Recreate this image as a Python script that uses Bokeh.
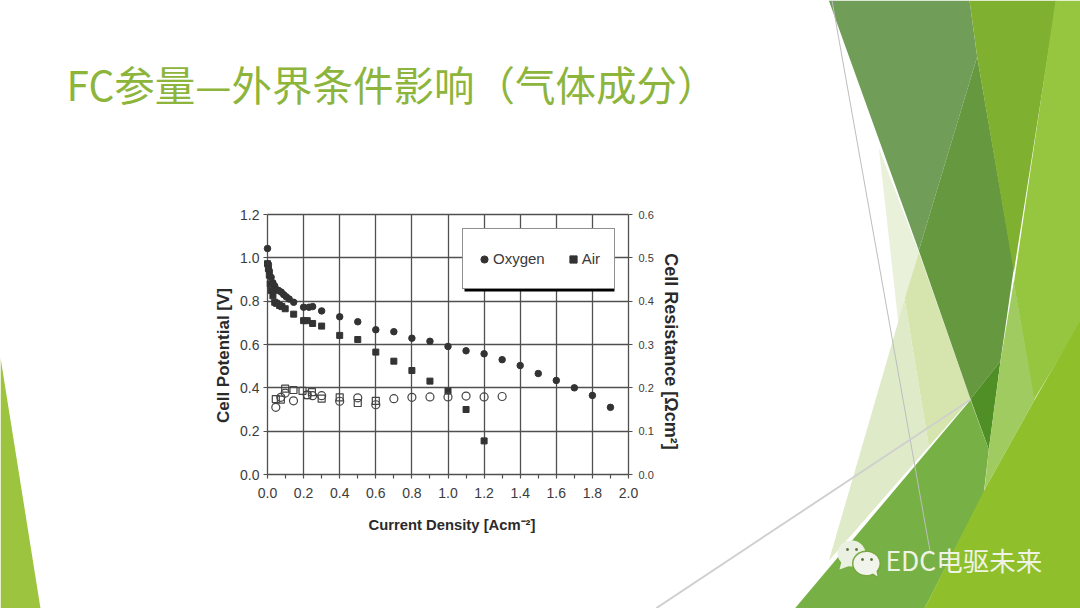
import numpy as np
from bokeh.plotting import figure
from bokeh.embed import file_html
from bokeh.resources import INLINE
from bokeh.models import (Range1d, LinearAxis, FixedTicker, PrintfTickFormatter, Legend, LegendItem,
                          BoxAnnotation, Label)

title_text = "FC参量—外界条件影响（气体成分）"
brand_text = "EDC电驱未来"
x_title = "Current Density [Acm⁻²]"
left_title = "Cell Potential [V]"
right_title = "Cell Resistance [Ωcm²]"

x_ticks = [0.0, 0.2, 0.4, 0.6, 0.8, 1.0, 1.2, 1.4, 1.6, 1.8, 2.0]
x_minor = [0.1, 0.3, 0.5, 0.7, 0.9, 1.1, 1.3, 1.5, 1.7, 1.9]
v_ticks = [0.0, 0.2, 0.4, 0.6, 0.8, 1.0, 1.2]
r_ticks = [0.0, 0.1, 0.2, 0.3, 0.4, 0.5, 0.6]

o2_x = [0.0, 0.005, 0.01, 0.02, 0.03, 0.04, 0.05, 0.06, 0.076, 0.09, 0.104, 0.12, 0.145, 0.2, 0.23, 0.25, 0.3, 0.4,
        0.5, 0.6, 0.7, 0.8, 0.9, 1.0, 1.1, 1.2, 1.3, 1.4, 1.5, 1.6, 1.7, 1.8, 1.9]
o2_v = [1.043, 0.97, 0.94, 0.91, 0.885, 0.87, 0.852, 0.85, 0.842, 0.83, 0.82, 0.81, 0.795, 0.772, 0.772, 0.775, 0.755,
        0.728, 0.705, 0.668, 0.659, 0.629, 0.615, 0.591, 0.571, 0.557, 0.53, 0.503, 0.466, 0.434, 0.40, 0.365, 0.31]
air_x = [0.0, 0.005, 0.01, 0.015, 0.02, 0.03, 0.04, 0.05, 0.067, 0.08, 0.098, 0.145, 0.2, 0.22, 0.25, 0.3, 0.4, 0.5,
         0.6, 0.7, 0.8, 0.9, 1.0, 1.1, 1.2]
air_v = [0.973, 0.95, 0.92, 0.88, 0.85, 0.825, 0.795, 0.79, 0.78, 0.775, 0.765, 0.74, 0.71, 0.71, 0.697, 0.685, 0.642,
         0.623, 0.565, 0.523, 0.48, 0.431, 0.385, 0.30, 0.155]

o2_res_x = [0.046, 0.074, 0.098, 0.144, 0.22, 0.25, 0.3, 0.4, 0.5, 0.6, 0.7, 0.8, 0.9, 1.0, 1.1, 1.2, 1.3]
o2_res = [0.155, 0.178, 0.188, 0.17, 0.184, 0.182, 0.182, 0.169, 0.177, 0.161, 0.175, 0.178, 0.179, 0.179, 0.181, 0.179, 0.18]
air_res_x = [0.046, 0.074, 0.098, 0.144, 0.194, 0.22, 0.246, 0.3, 0.4, 0.5, 0.6]
air_res = [0.174, 0.173, 0.198, 0.195, 0.193, 0.183, 0.19, 0.175, 0.178, 0.165, 0.17]

W, H = 1080, 608
LEFT, TOP, FW, FH = 267, 214, 361, 260  # chart rectangle in slide pixels


def to_x(px):
    return (np.asarray(px, dtype=float) - LEFT) * 2 / FW


def to_y(py):
    return (TOP + FH - np.asarray(py, dtype=float)) * 1.2 / FH


# the frame fills the whole slide; the axes sit inside it at fixed locations
p = figure(width=W, height=H, output_backend="svg", toolbar_location=None,
           x_range=Range1d(float(to_x(0)), float(to_x(W))), y_range=Range1d(float(to_y(H)), float(to_y(0))),
           min_border=0, min_border_left=0, min_border_right=0, min_border_top=0, min_border_bottom=0,
           background_fill_color="white", border_fill_color="white", outline_line_color=None)
p.extra_y_ranges = {"res": Range1d(float(to_y(H)) / 2, float(to_y(0)) / 2)}


# ---- slide background
def poly(points, color):
    pts = np.array(points, dtype=float)
    p.patch(to_x(pts[:, 0]).tolist(), to_y(pts[:, 1]).tolist(), fill_color=color, line_color=None)


def zp(points, color):
    # corners: x = 780 + zx/3, y = zy * 608/1568
    poly([(780 + a / 3, b * 608 / 1568) for a, b in points], color)


zp([(295, 380), (415, 650), (370, 775), (445, 1150), (400, 1190)], "#e9f1da")
zp([(372, 770), (415, 650), (570, 1028), (445, 1150)], "#d6e5ae")
zp([(410, 660), (372, 770), (445, 1150), (145, 1445)], "#dfeac8")
zp([(145, 0), (567, 0), (590, 145), (415, 645)], "#709d58")
zp([(415, 645), (590, 145), (700, 690), (660, 930), (570, 1028)], "#66983f")
zp([(567, 0), (828, 0), (700, 700), (590, 145)], "#80b030")
zp([(825, 0), (900, 0), (900, 830), (760, 1030), (700, 730)], "#96c63f")
zp([(570, 1028), (660, 930), (625, 1158)], "#4f8f26")
zp([(40, 1571), (570, 1030), (625, 1158), (610, 1270), (430, 1571)], "#77b145")
zp([(700, 725), (762, 1030), (612, 1262), (625, 1158), (660, 930)], "#a0cb60")
zp([(430, 1571), (612, 1262), (762, 1030), (900, 825), (900, 1571)], "#8fc02c")
poly([(0, 357), (40, 608), (0, 608)], "#9dc43f")
# thin grey rules
zp([(153, 0), (156, 0), (450, 1420), (447, 1420)], "#bdbdbd")
poly([(655, 607), (970, 398), (971, 399.5), (657, 608)], "#cfcfcf")


# WeChat mark
def bubble(cx, cy, rx, ry, tail, color):
    t = np.linspace(0, 2 * np.pi, 48)
    poly(np.c_[cx + rx * np.cos(t), cy + ry * np.sin(t)], color)
    poly(tail, color)


bubble(851, 553, 14, 13, [(841, 561), (839, 569), (850, 565)], "#eaf0e2")
bubble(866, 563, 14.5, 13, [(870, 574), (878, 578), (876, 566)], "#77a83f")
bubble(866, 563, 13, 11.5, [(871, 572), (877, 576), (875, 566)], "#f0f4ea")
for ex, ey in [(847, 549), (856, 549), (862, 559), (871, 559)]:
    bubble(ex, ey, 1.4, 1.4, [(ex - 1, ey), (ex + 1, ey), (ex, ey)], "#56703f")


def page_label(text, x, y, size, color, weight="normal", font="Noto Sans CJK SC"):
    p.add_layout(Label(x=float(to_x(x)), y=float(to_y(y)), text=text,
                       text_font=font, text_font_size=f"{size}px", text_color=color, text_font_style=weight,
                       text_baseline="middle", text_align="left"))


page_label(title_text, 66, 83, 40.5, "#8db53c")
page_label(brand_text, 885, 559, 26.5, "#eef3e6")

# ---- chart
GRID = "#505050"
for g, ticks, cross in ((p.xgrid[0], x_ticks, (0, 1.2)), (p.ygrid[0], v_ticks, (0, 2))):
    g.ticker = FixedTicker(ticks=ticks)
    g.grid_line_color = GRID
    g.grid_line_width = 1.3
    g.cross_bounds = cross

# the axis lines coincide with the outer grid lines; the bounds only centre each axis title
ax = p.xaxis[0]
ax.ticker = FixedTicker(ticks=x_ticks, minor_ticks=x_minor)
ax.fixed_location = 0
ax.bounds = (0, 2.044)
ay = p.yaxis[0]
ay.ticker = FixedTicker(ticks=v_ticks)
ay.fixed_location = 0
ay.bounds = (-0.1, 1.2)
ar = LinearAxis(y_range_name="res", ticker=FixedTicker(ticks=r_ticks), fixed_location=2, bounds=(-0.032, 0.6))
p.add_layout(ar, "right")

for a in (ax, ay, ar):
    a.formatter = PrintfTickFormatter(format="%.1f")
    a.axis_line_color = None
    a.major_tick_line_color = GRID
    a.major_tick_line_width = 1.2
    a.major_tick_in = 0
    a.major_tick_out = 4
    a.minor_tick_line_color = GRID
    a.minor_tick_in = 0
    a.minor_tick_out = 0
    a.major_label_text_font = "Liberation Sans"
    a.major_label_text_color = "#3c3c3c"
    a.axis_label_text_font = "Liberation Sans"
    a.axis_label_text_font_style = "bold"
    a.axis_label_text_color = "#2a2a2a"

ax.minor_tick_line_width = 1.2
ax.minor_tick_out = 4
ax.major_label_text_font_size = "14px"
ax.major_label_standoff = 9
ax.axis_label = x_title
ax.axis_label_text_font_size = "14.8px"
ax.axis_label_standoff = 16
ay.major_label_text_font_size = "14px"
ay.major_label_standoff = 4
ay.axis_label = left_title
ay.axis_label_text_font_size = "17px"
ay.axis_label_standoff = 4
ar.major_label_text_font_size = "11px"
ar.major_label_standoff = 6
ar.axis_label = right_title
ar.axis_label_text_font_size = "18px"
ar.axis_label_standoff = 4

DARK = "#333333"
r_o2 = p.scatter(o2_x, o2_v, marker="circle", size=6.5, color=DARK)
r_air = p.scatter(air_x, air_v, marker="square", size=6, color=DARK)
p.scatter(o2_res_x, o2_res, marker="circle", size=8, fill_color=None, line_color="#444444", line_width=1.2,
          y_range_name="res")
p.scatter(air_res_x, air_res, marker="square", size=7, fill_color=None, line_color="#444444", line_width=1.2,
          y_range_name="res")

# ---- legend with its black drop shadow
p.add_layout(BoxAnnotation(left=464, right=614, top=231, bottom=291, left_units="canvas",
                           right_units="canvas", top_units="canvas", bottom_units="canvas",
                           fill_color="black", fill_alpha=1, line_alpha=0, level="annotation", editable=False))
leg = Legend(items=[LegendItem(label="Oxygen", renderers=[r_o2]), LegendItem(label="Air", renderers=[r_air])],
             orientation="horizontal", location=(462, 319), margin=0, padding=12, spacing=19,
             glyph_width=18, glyph_height=20, label_standoff=0, label_height=35,
             label_text_font="Liberation Sans", label_text_font_size="15px", label_text_color="#3a3a3a",
             border_line_color="#222222", border_line_width=1, background_fill_color="white", background_fill_alpha=1)
p.add_layout(leg, "center")

open("out.html", "w").write(file_html(p, INLINE))
